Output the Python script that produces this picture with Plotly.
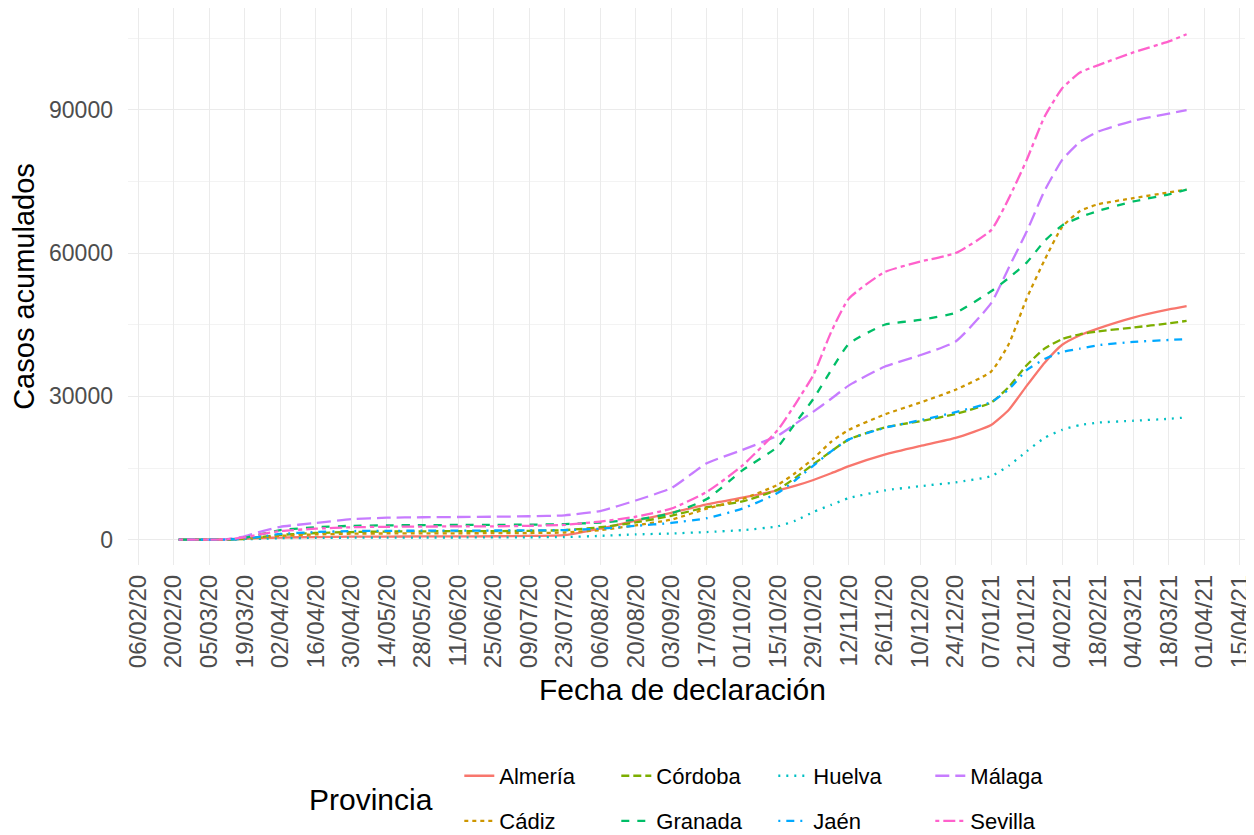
import plotly.graph_objects as go

fechas = ["2020-02-22", "2020-03-05", "2020-03-12", "2020-03-19", "2020-03-26", "2020-04-02",
          "2020-04-16", "2020-04-30", "2020-05-14", "2020-05-28", "2020-06-11", "2020-06-25",
          "2020-07-09", "2020-07-23", "2020-08-06", "2020-08-20", "2020-09-03", "2020-09-17",
          "2020-10-01", "2020-10-15", "2020-10-22", "2020-10-29", "2020-11-05", "2020-11-12",
          "2020-11-26", "2020-12-10", "2020-12-24", "2021-01-07", "2021-01-14", "2021-01-21",
          "2021-01-28", "2021-02-04", "2021-02-11", "2021-02-18", "2021-03-04", "2021-03-18",
          "2021-03-25"]

almeria = [0, 0, 50, 200, 350, 450, 550, 620, 660, 680, 700, 720, 780, 950, 2300, 4000, 5600,
           7400, 8800, 10300, 11300, 12500, 13900, 15400, 17800, 19600, 21300, 24000, 27200,
           32200, 37000, 40800, 42800, 44200, 46500, 48200, 48900]
cadiz = [0, 0, 30, 200, 500, 800, 1100, 1250, 1300, 1320, 1340, 1360, 1400, 1500, 2000, 3000,
         4200, 6500, 8500, 11500, 14000, 17000, 20500, 23000, 26200, 28700, 31400, 35200, 41000,
         50500, 58500, 65500, 68800, 70200, 71500, 72700, 73300]
cordoba = [0, 0, 30, 200, 600, 1000, 1400, 1600, 1700, 1750, 1780, 1800, 1850, 2000, 2600, 3600,
           5000, 6800, 8000, 10500, 13000, 15800, 18500, 21000, 23500, 24800, 26300, 28700, 32000,
           36500, 40000, 42000, 43000, 43600, 44400, 45300, 45800]
granada = [0, 0, 50, 400, 1200, 2000, 2600, 2900, 3000, 3050, 3080, 3100, 3150, 3250, 3600, 4200,
           5500, 8500, 14500, 19500, 24500, 29500, 35500, 41000, 45000, 46000, 47500, 52000, 54800,
           58000, 62500, 65800, 67500, 68800, 70800, 72300, 73300]
huelva = [0, 0, 10, 80, 200, 300, 380, 420, 440, 450, 460, 470, 500, 560, 800, 1100, 1300, 1600,
          2000, 2800, 4000, 5800, 7300, 8700, 10300, 11200, 12000, 13300, 15500, 18500, 21300,
          23000, 24000, 24500, 24900, 25300, 25600]
jaen = [0, 0, 20, 200, 700, 1200, 1600, 1800, 1850, 1880, 1900, 1920, 1950, 2000, 2300, 2900,
        3500, 4500, 6500, 9800, 12500, 15500, 18500, 21000, 23400, 25000, 26700, 28800, 31500,
        35500, 37800, 39300, 40000, 40700, 41400, 41800, 42000]
malaga = [0, 0, 100, 700, 1800, 2700, 3500, 4300, 4600, 4700, 4750, 4800, 4900, 5100, 6000, 8200,
          10800, 16000, 18800, 21800, 24300, 26800, 29500, 32300, 36200, 38600, 41500, 49500,
          57000, 64500, 73000, 79500, 83300, 85400, 87700, 89200, 89900]
sevilla = [0, 0, 80, 500, 1200, 1800, 2300, 2600, 2700, 2750, 2780, 2800, 2900, 3100, 3800, 4800,
           6500, 10000, 15500, 23000, 28500, 34500, 43500, 50500, 56000, 58200, 60000, 64800,
           71500, 79500, 88500, 94500, 97800, 99300, 102000, 104300, 105800]

provincias = ["Almería", "Cádiz", "Córdoba", "Granada", "Huelva", "Jaén", "Málaga", "Sevilla"]
valores = [almeria, cadiz, cordoba, granada, huelva, jaen, malaga, sevilla]
colores = ["#F8766D", "#CD9600", "#7CAE00", "#00BE67", "#00BFC4", "#00A9FF", "#C77CFF", "#FF61CC"]
guiones = ["solid", "4px,4px", "8px,4px", "8px,8px", "2px,6px", "2px,6px,8px,6px",
           "14px,6px", "4px,4px,12px,4px"]
# legend rows (column-major layout like ggplot): row 1 / row 2
fila = {"Almería": "legend", "Córdoba": "legend", "Huelva": "legend", "Málaga": "legend",
        "Cádiz": "legend2", "Granada": "legend2", "Jaén": "legend2", "Sevilla": "legend2"}
orden_leyenda = ["Almería", "Córdoba", "Huelva", "Málaga", "Cádiz", "Granada", "Jaén", "Sevilla"]

FONT = "Liberation Sans, Arial, sans-serif"

fig = go.Figure()
for nombre in orden_leyenda:
    i = provincias.index(nombre)
    fig.add_trace(go.Scatter(
        x=fechas, y=valores[i], mode="lines", name=nombre,
        line=dict(color=colores[i], width=2.3, dash=guiones[i], shape="spline", smoothing=0.5),
        legend=fila[nombre], showlegend=True,
    ))

leg_common = dict(orientation="h", xanchor="left", yanchor="top",
                  font=dict(family=FONT, size=22, color="#000000"),
                  bgcolor="rgba(0,0,0,0)", entrywidth=112, entrywidthmode="pixels",
                  itemwidth=30, tracegroupgap=0)

# page body has an 8px margin, so the figure is 8px smaller than the window
fig.update_layout(
    width=1246, height=827,
    margin=dict(l=120, r=9, t=0, b=270, autoexpand=False),
    paper_bgcolor="white", plot_bgcolor="white",
    font=dict(family=FONT, size=22, color="#4D4D4D"),
    xaxis=dict(
        type="date", range=["2020-02-02", "2021-04-17"], automargin=False,
        tick0="2020-02-06", dtick=14 * 86400000, tickformat="%d/%m/%y", tickangle=-90,
        showgrid=True, gridcolor="#EBEBEB", gridwidth=1.2, zeroline=False, showline=False,
        ticks="", ticklabelstandoff=4, tickfont=dict(family=FONT, size=24, color="#4D4D4D"),
    ),
    yaxis=dict(
        range=[-5300, 111300], tickvals=[0, 30000, 60000, 90000], automargin=False,
        ticktext=["0", "30000", "60000", "90000"],
        showgrid=True, gridcolor="#EBEBEB", gridwidth=1.2, zeroline=False, showline=False,
        minor=dict(tickvals=[15000, 45000, 75000, 105000], showgrid=True, gridcolor="#F3F3F3",
                   gridwidth=0.8),
        ticks="", ticklabelstandoff=14, tickfont=dict(family=FONT, size=23, color="#4D4D4D"),
        title=dict(text="Casos acumulados", font=dict(family=FONT, size=29, color="#000000"),
                   standoff=8),
    ),
    legend=dict(x=0.2966, y=-0.341, **leg_common),
    legend2=dict(x=0.2966, y=-0.422, **leg_common),
    annotations=[
        dict(text="Fecha de declaración", x=0.496, y=-0.2244, xref="paper", yref="paper",
             xanchor="center", yanchor="middle", showarrow=False,
             font=dict(family=FONT, size=30, color="#000000")),
        dict(text="Provincia", x=0.2175, y=-0.421, xref="paper", yref="paper",
             xanchor="center", yanchor="middle", showarrow=False,
             font=dict(family=FONT, size=30, color="#000000")),
    ],
)

fig.write_html("out.html")
